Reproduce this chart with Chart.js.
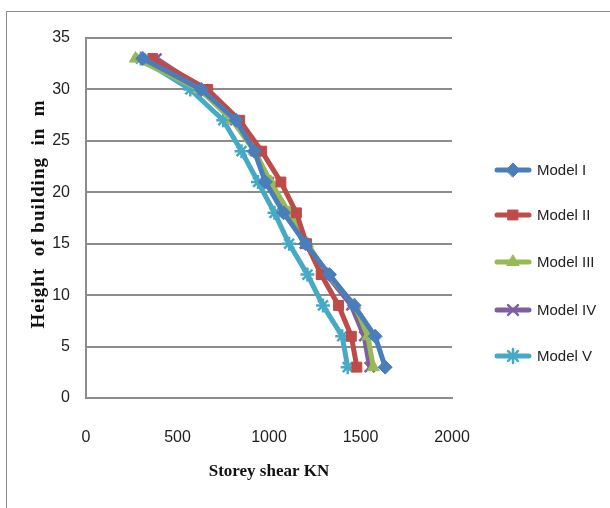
<!DOCTYPE html>
<html>
<head>
<meta charset="utf-8">
<script src="https://cdn.jsdelivr.net/npm/chart.js@4/dist/chart.umd.min.js"></script>
<style>
  html, body { margin: 0; padding: 0; background: #fff; }
  #wrap { position: relative; width: 610px; height: 508px; overflow: hidden; }
  #frame { position: absolute; left: 6px; top: 11px; width: 700px; height: 600px; border: 1px solid #8c8c8c; box-sizing: border-box; }
  canvas { position: absolute; left: 0; top: 0; }
</style>
</head>
<body>
<div id="wrap">
  <div id="frame"></div>
  <canvas id="shearChart" width="610" height="508"></canvas>
</div>
<script>
// storey heights (m) and storey shear (KN) for each model
const heights = [3, 6, 9, 12, 15, 18, 21, 24, 27, 30, 33];
const model1 = [1635, 1580, 1465, 1330, 1200, 1080, 980, 920, 820, 630, 310];
const model2 = [1480, 1450, 1380, 1285, 1205, 1150, 1065, 960, 840, 665, 365];
const model3 = [1570, 1540, 1470, 1320, 1210, 1110, 1010, 920, 800, 620, 270];
const model4 = [1550, 1520, 1450, 1315, 1195, 1095, 1000, 925, 815, 640, 385];
const model5 = [1430, 1400, 1295, 1210, 1110, 1030, 940, 850, 750, 570, 300];
const seriesNames = ['Model I', 'Model II', 'Model III', 'Model IV', 'Model V'];
const xTicks = [0, 500, 1000, 1500, 2000];
const yTicks = [0, 5, 10, 15, 20, 25, 30, 35];
const yTitle = 'Height  of building  in  m';

const colors = ['#4A7EBB', '#BE4B48', '#98B954', '#7D60A0', '#46AAC5'];
const markers = ['rectRot', 'rect', 'triangle', 'crossRot', 'star'];
const allSeries = [model1, model2, model3, model4, model5];

const tickFont = '"Liberation Sans Narrow", "Liberation Sans", Arial, sans-serif';
const serifFont = '"Liberation Serif", "Times New Roman", serif';
const pts = vals => vals.map((v, i) => ({ x: v, y: heights[i] }));

const datasets = allSeries.map((vals, i) => ({
    label: seriesNames[i],
    data: pts(vals),
    showLine: true,
    borderColor: colors[i],
    backgroundColor: colors[i],
    borderWidth: 5,
    pointStyle: markers[i],
    pointRadius: 7,
    pointBorderWidth: (markers[i] === 'crossRot' || markers[i] === 'star') ? 2.5 : 1,
    pointBorderColor: colors[i],
    pointBackgroundColor: colors[i],
    tension: 0
}));

// legend with a line segment + marker, and the spaced-out y title
const extras = {
    id: 'extras',
    afterDraw(chart) {
        const ctx = chart.ctx;
        const ys = [170, 215, 262, 310, 356];
        chart.data.datasets.forEach((ds, i) => {
            const y = ys[i];
            ctx.save();
            ctx.strokeStyle = ds.borderColor;
            ctx.lineWidth = 5;
            ctx.lineCap = 'round';
            ctx.beginPath();
            ctx.moveTo(497, y);
            ctx.lineTo(529, y);
            ctx.stroke();
            ctx.fillStyle = ds.backgroundColor;
            ctx.strokeStyle = ds.borderColor;
            ctx.lineWidth = ds.pointBorderWidth;
            Chart.helpers.drawPoint(ctx, { pointStyle: ds.pointStyle, radius: 7, borderWidth: ds.pointBorderWidth }, 513, y);
            ctx.fillStyle = '#222';
            ctx.font = '15px ' + tickFont;
            ctx.textAlign = 'left';
            ctx.textBaseline = 'middle';
            ctx.fillText(ds.label, 537, y + 1);
            ctx.restore();
        });

        ctx.save();
        ctx.translate(39, 214);
        ctx.rotate(-Math.PI / 2);
        ctx.font = 'bold 19px ' + serifFont;
        ctx.letterSpacing = '1px';
        ctx.fillStyle = '#111';
        ctx.textAlign = 'center';
        ctx.textBaseline = 'middle';
        ctx.fillText(yTitle, 0, 0);
        ctx.restore();
    }
};

new Chart(document.getElementById('shearChart'), {
    type: 'scatter',
    data: { datasets: datasets },
    options: {
        responsive: false,
        animation: false,
        layout: { padding: { left: 24, right: 158, top: 38, bottom: 22 } },
        plugins: { legend: { display: false }, tooltip: { enabled: false } },
        scales: {
            x: {
                type: 'linear',
                min: 0, max: 2000,
                afterBuildTicks: s => { s.ticks = xTicks.map(v => ({ value: v })); },
                grid: { display: false },
                border: { display: true, color: '#8c8c8c', width: 2 },
                ticks: { color: '#222', padding: 22, maxRotation: 0, callback: v => String(v), font: { family: tickFont, size: 16 } },
                title: { display: true, text: 'Storey shear KN', color: '#111', padding: { top: 4 }, font: { family: serifFont, size: 17, weight: 'bold' } },
                afterFit: s => { s.height = 88; }
            },
            y: {
                type: 'linear',
                min: 0, max: 35,
                afterBuildTicks: s => { s.ticks = yTicks.map(v => ({ value: v })); },
                grid: { color: '#8c8c8c', lineWidth: 2, drawTicks: false },
                border: { display: true, color: '#8c8c8c', width: 2 },
                ticks: { color: '#222', padding: 16, callback: v => String(v), font: { family: tickFont, size: 16 } },
                afterFit: s => { s.width = 62; }
            }
        }
    },
    plugins: [extras]
});
</script>
</body>
</html>
